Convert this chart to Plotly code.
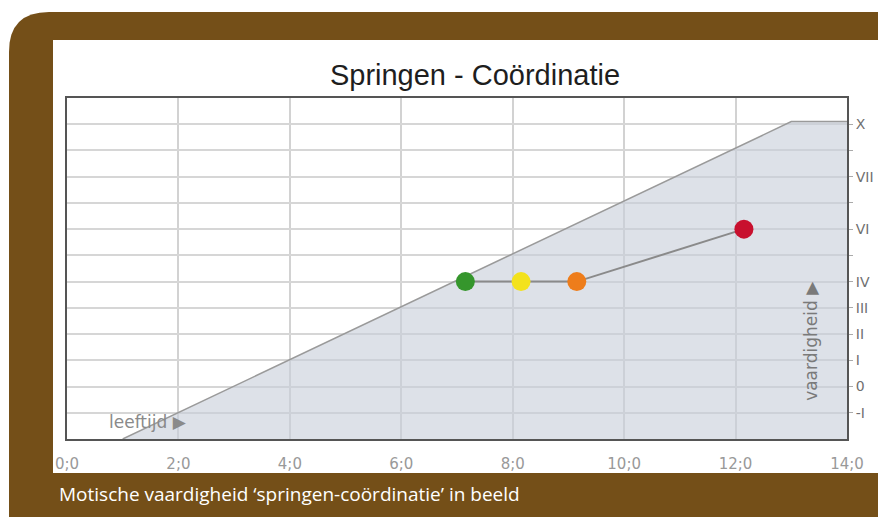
import plotly.graph_objects as go

# Data
age_ticks = [0, 2, 4, 6, 8, 10, 12, 14]
age_labels = ["0;0", "2;0", "4;0", "6;0", "8;0", "10;0", "12;0", "14;0"]
level_vals = [1, 2, 3, 4, 5, 6, 7, 8, 9, 10, 11, 12]
level_labels = ["-I", "0", "I", "II", "III", "IV", "", "VI", "", "VII", "", "X"]

# norm band (grey area)
norm_age = [1, 13, 14]
norm_level = [0, 12.1, 12.1]

# measurements
meet_age = [7.15, 8.15, 9.15, 12.15]
meet_level = [6, 6, 6, 8]
meet_colors = ["#35962c", "#f3e21c", "#ee7d1b", "#c8102e"]

W, H = 878, 517
L, R, T, B = 67, 847, 98, 439

BROWN = "#744f18"


def px(x):
    # pixel -> paper x
    return (x - L) / (R - L)


def py(y):
    # pixel -> paper y
    return (B - y) / (B - T)


fig = go.Figure()

# grijs normgebied
fig.add_trace(go.Scatter(
    x=norm_age, y=norm_level,
    mode="lines",
    fill="tozeroy",
    fillcolor="rgba(200,207,218,0.62)",
    line=dict(color="#9a9a9a", width=1.5),
    hoverinfo="skip",
))

# meetpunten
fig.add_trace(go.Scatter(
    x=meet_age, y=meet_level,
    mode="lines+markers",
    line=dict(color="#8a8a8a", width=2),
    marker=dict(size=19, color=meet_colors, line=dict(width=0)),
))

# kader (bruin met afgeronde hoek) en wit paneel
frame_path = (
    f"M {px(9)},{py(517)} L {px(9)},{py(52)} "
    f"Q {px(9)},{py(12)} {px(49)},{py(12)} "
    f"L {px(878)},{py(12)} L {px(878)},{py(517)} Z"
)
shapes = [
    dict(type="path", xref="paper", yref="paper", path=frame_path,
         fillcolor=BROWN, line=dict(width=0), layer="below"),
    dict(type="rect", xref="paper", yref="paper",
         x0=px(53), x1=px(878), y0=py(473), y1=py(40),
         fillcolor="white", line=dict(width=0), layer="below"),
]

annotations = [
    dict(text="leeftijd ▶", x=1.45, y=0.65, xref="x", yref="y",
         showarrow=False, font=dict(family="DejaVu Sans", size=17, color="#8a8a8a")),
    dict(text="vaardigheid ▶", x=13.34, y=3.75, xref="x", yref="y", textangle=-90,
         showarrow=False, font=dict(family="DejaVu Sans", size=17, color="#7a7a7a")),
    dict(text="Motische vaardigheid ‘springen-coördinatie’ in beeld",
         x=px(57), y=py(494), xref="paper", yref="paper",
         xanchor="left", yanchor="middle", showarrow=False,
         font=dict(family="Open Sans", size=19, color="white")),
]

fig.update_layout(
    width=W, height=H,
    autosize=False,
    margin=dict(l=L, r=W - R, t=T, b=H - B, autoexpand=False),
    paper_bgcolor="white",
    plot_bgcolor="white",
    showlegend=False,
    title=dict(
        text="Springen - Coördinatie",
        x=475 / W, xref="container", xanchor="center",
        y=1 - 75 / H, yref="container", yanchor="middle",
        font=dict(family="Liberation Sans", size=29, color="#1e1e1e"),
    ),
    shapes=shapes,
    annotations=annotations,
    xaxis=dict(
        range=[0, 14], automargin=False,
        tickvals=age_ticks, ticktext=age_labels,
        showgrid=True, gridcolor="#d2d2d2", gridwidth=1.5,
        showline=True, linecolor="#555555", linewidth=2, mirror=True,
        zeroline=False, ticks="", ticklabelstandoff=10,
        tickfont=dict(family="DejaVu Sans", size=15, color="#999999"),
        fixedrange=True,
    ),
    yaxis=dict(
        range=[0, 13], side="right", automargin=False,
        tickvals=level_vals, ticktext=level_labels,
        showgrid=True, gridcolor="#d6d6d6", gridwidth=1.5,
        showline=True, linecolor="#555555", linewidth=2, mirror=True,
        zeroline=False, ticks="outside", ticklen=4, tickcolor="#aaaaaa",
        tickfont=dict(family="DejaVu Sans", size=14, color="#707070"),
        fixedrange=True,
    ),
)

fig.write_html(
    "out.html",
    config={"responsive": False, "displayModeBar": False},
    post_script="document.body.style.margin='0';document.body.style.overflow='hidden';",
)
